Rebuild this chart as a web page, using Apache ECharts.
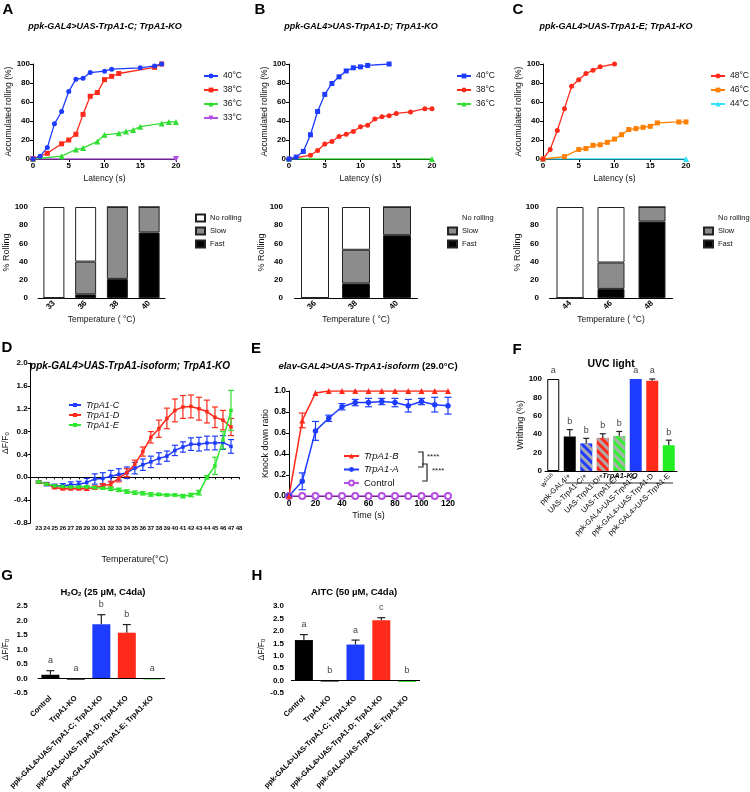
<!DOCTYPE html>
<html><head><meta charset="utf-8">
<script src="https://cdn.jsdelivr.net/npm/echarts@6/dist/echarts.min.js"></script>
<style>html,body{margin:0;padding:0;background:#fff}#c{width:750px;height:792px}</style>
</head><body><div id="c"></div>
<script>
// ================= DATA =================
// Panel A: ppk-GAL4>UAS-TrpA1-C; TrpA1-KO
const aLat40 = [0,1,2,3,4,5,6,7,8,10,11,15,17,18];
const aRoll40 = [0,3,12,37,50,71,84,85,91,92.5,94.5,96,98,100];
const aLat38 = [0,2,4,5,6,7,8,9,10,11,12,17,18];
const aRoll38 = [0,6,16,20,26,47,66,70,83.5,87,90,96.5,100];
const aLat36 = [0,4,6,7,9,10,12,13,14,15,18,19,20];
const aRoll36 = [0,3,10,11.5,18.5,25.5,27,29,30.5,34,37.5,39,39];
const aLat33 = [0,20];
const aRoll33 = [0,0];
const aTemps = ['33','36','38','40'];
const aFast = [0,4,21,72];
const aSlow = [0,36,79,28];
const aNone = [100,60,0,0];
// Panel B: ppk-GAL4>UAS-TrpA1-D; TrpA1-KO
const bLat40 = [0,1,2,3,4,5,6,7,8,9,10,11,14];
const bRoll40 = [0,2,8,25.5,50,68,79.5,86.5,92.7,96,97,98.5,100];
const bLat38 = [0,3,4,5,6,7,8,9,10,11,12,13,14,15,17,19,20];
const bRoll38 = [0,4,9,15.7,18.5,23.7,26,29,34,35.5,42,44.6,45.6,48,49.5,53,53];
const bLat36 = [0,20];
const bRoll36 = [0,0];
const bTemps = ['36','38','40'];
const bFast = [0,16,69];
const bSlow = [0,37,31];
const bNone = [100,47,0];
// Panel C: ppk-GAL4>UAS-TrpA1-E; TrpA1-KO
const cLat48 = [0,1,2,3,4,5,6,7,8,10];
const cRoll48 = [0,10,30,53,76.5,83.5,90,93.3,97,100];
const cLat46 = [0,3,5,6,7,8,9,10,11,12,13,14,15,16,19,20];
const cRoll46 = [0,2.5,10,11,14.4,15,17.5,21,25.6,31,32,33.3,34.4,38,39,39];
const cLat44 = [0,20];
const cRoll44 = [0,0];
const cTemps = ['44','46','48'];
const cFast = [0,10,84];
const cSlow = [0,29,16];
const cNone = [100,61,0];
// Panel D: dF/F0 vs temperature
const dTemp = [23,24,25,26,27,28,29,30,31,32,33,34,35,36,37,38,39,40,41,42,43,44,45,46,47];
const dC    = [-0.08,-0.12,-0.15,-0.15,-0.13,-0.12,-0.09,-0.03,-0.02,0.02,0.05,0.08,0.16,0.22,0.27,0.33,0.37,0.47,0.53,0.58,0.58,0.60,0.60,0.61,0.54];
const dCErr = [0.02,0.03,0.03,0.04,0.05,0.05,0.07,0.09,0.1,0.1,0.1,0.1,0.1,0.1,0.1,0.1,0.09,0.09,0.09,0.11,0.12,0.12,0.12,0.12,0.12];
const dD    = [-0.08,-0.12,-0.18,-0.2,-0.2,-0.2,-0.2,-0.18,-0.15,-0.12,-0.02,0.08,0.23,0.45,0.70,0.85,1.03,1.17,1.23,1.24,1.20,1.15,1.05,1.00,0.88];
const dDErr = [0.02,0.02,0.02,0.02,0.02,0.02,0.03,0.03,0.04,0.05,0.06,0.07,0.07,0.08,0.1,0.15,0.18,0.2,0.2,0.2,0.2,0.2,0.18,0.17,0.15];
const dE    = [-0.08,-0.12,-0.15,-0.16,-0.17,-0.17,-0.17,-0.18,-0.19,-0.2,-0.22,-0.25,-0.27,-0.28,-0.3,-0.3,-0.31,-0.31,-0.33,-0.31,-0.27,0.0,0.2,0.65,1.17];
const dEErr = [0.02,0.02,0.02,0.02,0.02,0.02,0.02,0.02,0.02,0.03,0.03,0.03,0.03,0.03,0.03,0.02,0.02,0.02,0.03,0.03,0.04,0.03,0.15,0.15,0.35];
// Panel E: knock down ratio
const eTime = [0,10,20,30,40,50,60,70,80,90,100,110,120];
const eB    = [0,0.72,0.98,1,1,1,1,1,1,1,1,1,1];
const eBErr = [0,0.07,0,0,0,0,0,0,0,0,0,0,0];
const eA    = [0,0.14,0.62,0.74,0.85,0.89,0.89,0.90,0.89,0.86,0.90,0.87,0.86];
const eAErr = [0,0.08,0.09,0.03,0.03,0.03,0.04,0.03,0.04,0.06,0.03,0.07,0.08];
const eCtrl = [0,0,0,0,0,0,0,0,0,0,0,0,0];
// Panel F: UVC light writhing
const fGeno = ['w1118','ppk-GAL4/+','UAS-TrpA1-C/+','UAS-TrpA1-D/+','UAS-TrpA1-E/+','ppk-GAL4>UAS-TrpA1-C','ppk-GAL4>UAS-TrpA1-D','ppk-GAL4>UAS-TrpA1-E'];
const fVals = [100,37.5,30,36,38,100,98,28];
const fErr  = [0,7.5,5.5,4.5,5,0,2,5.5];
const fLetters = ['a','b','b','b','b','a','a','b'];
// Panels G, H
const ghGeno = ['Control','TrpA1-KO','ppk-GAL4>UAS-TrpA1-C; TrpA1-KO','ppk-GAL4>UAS-TrpA1-D; TrpA1-KO','ppk-GAL4>UAS-TrpA1-E; TrpA1-KO'];
const gVals = [0.13,-0.05,1.87,1.58,-0.03];
const gErr  = [0.14,0,0.33,0.28,0];
const gLetters = ['a','a','b','b','a'];
const hVals = [1.63,-0.05,1.45,2.43,-0.05];
const hErr  = [0.22,0,0.18,0.1,0];
const hLetters = ['a','b','a','c','b'];

// ================= STYLE =================
const FONT = '"Liberation Sans", Arial, Helvetica, sans-serif';
const BLUE='#1e3cff', RED='#ff2a1a', GREEN='#33dd33', PURPLE='#b44fe0', ORANGE='#ff8000', CYAN='#33e0ff', GRAY='#8c8c8c';
const fColors = ['#ffffff','#000000',BLUE,RED,'#33ee33',BLUE,RED,'#22ee22'];
const fHatch  = [false,false,true,true,true,false,false,false];
const ghColors = ['#000000','#555555',BLUE,RED,'#22cc22'];

function merge(a,b){const o=Object.assign({},a);for(const k in b){const v=b[k];if(v&&typeof v==='object'&&!Array.isArray(v)&&a[k]&&typeof a[k]==='object'&&!Array.isArray(a[k]))o[k]=merge(a[k],v);else o[k]=v;}return o;}
const axisBase = {
  axisLine:{lineStyle:{color:'#000',width:1}},
  axisTick:{length:3,lineStyle:{color:'#000'}},
  axisLabel:{color:'#000',fontSize:8,fontWeight:'bold',fontFamily:FONT,margin:3},
  splitLine:{show:false},
  nameTextStyle:{color:'#111',fontSize:8.5,fontFamily:FONT}
};
const grids=[],xAxes=[],yAxes=[],series=[],legends=[],graphics=[];
function addPanel(grid,xa,ya){grids.push(grid);const gi=grids.length-1;xAxes.push(merge(axisBase,Object.assign({gridIndex:gi},xa)));yAxes.push(merge(axisBase,Object.assign({gridIndex:gi},ya)));return xAxes.length-1;}
const stripName = n => n.split('|')[0];

function errSeries(ai, xs, ys, es, color, opt){
  opt = opt||{};
  const data = ys.map((y,i)=>[xs[i], y, es[i]]);
  return {type:'custom', xAxisIndex:ai, yAxisIndex:ai, silent:true, z:opt.z||3, data,
    renderItem:(p,api)=>{
      const x=api.value(0), y=api.value(1), e=api.value(2);
      const ch=[]; const cw=opt.cap||3; const lw=opt.lw||1;
      const top=api.coord([x,y+e]), bot=api.coord([x,opt.up?y:y-e]);
      if(e>0){
        ch.push({type:'line',shape:{x1:top[0],y1:top[1],x2:bot[0],y2:bot[1]},style:{stroke:color,lineWidth:lw}});
        ch.push({type:'line',shape:{x1:top[0]-cw,y1:top[1],x2:top[0]+cw,y2:top[1]},style:{stroke:color,lineWidth:lw}});
        if(!opt.up) ch.push({type:'line',shape:{x1:bot[0]-cw,y1:bot[1],x2:bot[0]+cw,y2:bot[1]},style:{stroke:color,lineWidth:lw}});
      }
      if(opt.letters){
        const r=api.coord([x,Math.max(y+e,0)]);
        ch.push({type:'text',x:r[0],y:r[1]-opt.gap,style:{text:opt.letters[p.dataIndex],font:(opt.lf||'9px')+' '+FONT,fill:'#444',align:'center',verticalAlign:'middle'}});
      }
      return {type:'group',children:ch};
    }};
}

// ---------- Rolling curves (A,B,C top) ----------
function rollingPanel(tag,left,lines,legLeft){
  const ai = addPanel({left,top:64,width:143,height:95},
    {type:'value',min:0,max:20,interval:5,name:'Latency (s)',nameLocation:'middle',nameGap:15},
    {type:'value',min:0,max:100,interval:20,name:'Accumulated rolling (%)',nameLocation:'middle',nameGap:13});
  lines.slice().reverse().forEach(l=>{
    series.push({type:'line',name:l.name+'|'+tag,xAxisIndex:ai,yAxisIndex:ai,data:l.x.map((v,i)=>[v,l.y[i]]),
      symbol:l.symbol,symbolSize:l.size||5,symbolRotate:l.rot||0,showSymbol:true,showAllSymbol:true,
      lineStyle:{color:l.color,width:1.3},itemStyle:{color:l.color},emphasis:{disabled:true}});
  });
  legends.push({orient:'vertical',left:legLeft,top:66,itemWidth:14,itemHeight:6,itemGap:4,
    data:lines.map(l=>l.name+'|'+tag),formatter:stripName,
    textStyle:{fontSize:8.5,fontFamily:FONT,color:'#111',lineHeight:10}});
}
rollingPanel('A',33,[
  {name:'40°C',x:aLat40,y:aRoll40,color:BLUE,symbol:'circle'},
  {name:'38°C',x:aLat38,y:aRoll38,color:RED,symbol:'rect'},
  {name:'36°C',x:aLat36,y:aRoll36,color:GREEN,symbol:'triangle',size:6},
  {name:'33°C',x:aLat33,y:aRoll33,color:PURPLE,symbol:'triangle',size:6,rot:180}],198);
rollingPanel('B',289,[
  {name:'40°C',x:bLat40,y:bRoll40,color:BLUE,symbol:'rect'},
  {name:'38°C',x:bLat38,y:bRoll38,color:RED,symbol:'circle'},
  {name:'36°C',x:bLat36,y:bRoll36,color:GREEN,symbol:'triangle',size:6}],451);
rollingPanel('C',543,[
  {name:'48°C',x:cLat48,y:cRoll48,color:RED,symbol:'circle'},
  {name:'46°C',x:cLat46,y:cRoll46,color:ORANGE,symbol:'rect'},
  {name:'44°C',x:cLat44,y:cRoll44,color:CYAN,symbol:'triangle',size:6}],705);

// ---------- Stacked bars (A,B,C bottom) ----------
function stackPanel(tag,left,width,off,cats,fast,slow,none,bw,legLeft,noneBox){
  const ai = addPanel({left,top:207,width,height:91},
    {type:'category',data:cats,axisTick:{alignWithLabel:true},axisLabel:{rotate:45,margin:4},name:'Temperature ( °C)',nameLocation:'middle',nameGap:17,nameTextStyle:{fontSize:8.5}},
    {type:'value',min:0,max:100,interval:20,offset:off,name:'% Rolling',nameLocation:'middle',nameGap:17,nameTextStyle:{fontSize:9}});
  const mk=(name,vals,color)=>({type:'bar',name:name+'|'+tag,stack:'s'+tag,xAxisIndex:ai,yAxisIndex:ai,data:vals,barWidth:bw,
    itemStyle:{color,borderColor:'#222',borderWidth:1},emphasis:{disabled:true}});
  series.push(mk('Fast',fast,'#000'),mk('Slow',slow,GRAY),mk('No rolling',none,'#fff'));
  legends.push({orient:'vertical',left:legLeft,top:208,itemWidth:9,itemHeight:7,itemGap:3,formatter:stripName,icon:'rect',
    data:[noneBox?{name:'No rolling|'+tag}:{name:'No rolling|'+tag,itemStyle:{opacity:0}},{name:'Slow|'+tag},{name:'Fast|'+tag}],
    textStyle:{fontSize:7.5,fontFamily:FONT,color:'#111',lineHeight:10}});
}
stackPanel('A',38,127,7,aTemps,aFast,aSlow,aNone,21,190,true);
stackPanel('B',294.5,123,8.5,bTemps,bFast,bSlow,bNone,28,442,false);
stackPanel('C',549.5,123,7.5,cTemps,cFast,cSlow,cNone,27,698,false);

// ---------- Panel D ----------
{
  const ai = addPanel({left:30,top:363,width:209,height:160},
    {type:'value',min:22,max:48,interval:1,axisTick:{length:2},axisLabel:{fontSize:6,margin:2,formatter:v=>v===22?'':v},
      name:'Temperature(°C)',nameLocation:'middle',nameGap:32,nameTextStyle:{fontSize:9}},
    {type:'value',min:-0.8,max:2.0,interval:0.4,axisLabel:{formatter:v=>v.toFixed(1)},
      name:'ΔF/F{s|0}',nameLocation:'middle',nameGap:17,nameTextStyle:{fontSize:8.5,rich:{s:{fontSize:6,verticalAlign:'bottom'}}}});
  const L=[['TrpA1-C',dC,dCErr,BLUE],['TrpA1-D',dD,dDErr,RED],['TrpA1-E',dE,dEErr,'#2ee62e']];
  L.forEach(([n,v,e,c])=>{
    series.push({type:'line',name:n+'|D',xAxisIndex:ai,yAxisIndex:ai,data:dTemp.map((t,i)=>[t,v[i]]),symbol:'rect',symbolSize:3.5,
      lineStyle:{color:c,width:1.5},itemStyle:{color:c},emphasis:{disabled:true},z:4});
    series.push(errSeries(ai,dTemp,v,e,c,{cap:3,lw:1.2}));
  });
  legends.push({orient:'vertical',left:63,top:395,itemWidth:12,itemHeight:5,itemGap:0,formatter:stripName,
    data:L.map(l=>l[0]+'|D'),textStyle:{fontSize:9,fontStyle:'italic',fontFamily:FONT,color:'#111',lineHeight:10}});
}

// ---------- Panel E ----------
{
  const ai = addPanel({left:289,top:391,width:159,height:105},
    {type:'value',min:0,max:120,interval:20,axisLabel:{fontSize:8.5},name:'Time (s)',nameLocation:'middle',nameGap:15,nameTextStyle:{fontSize:9}},
    {type:'value',min:0,max:1,interval:0.2,axisLabel:{fontSize:8.5,formatter:v=>v.toFixed(1)},name:'Knock down ratio',nameLocation:'middle',nameGap:19,nameTextStyle:{fontSize:9}});
  series.push({type:'line',name:'Control|E',xAxisIndex:ai,yAxisIndex:ai,data:eTime.map((t,i)=>[t,eCtrl[i]]),symbol:'emptyCircle',symbolSize:6,
    lineStyle:{color:PURPLE,width:1.5},itemStyle:{color:PURPLE,borderWidth:1.2},emphasis:{disabled:true}});
  series.push({type:'line',name:'TrpA1-A|E',xAxisIndex:ai,yAxisIndex:ai,data:eTime.map((t,i)=>[t,eA[i]]),symbol:'circle',symbolSize:5.5,
    lineStyle:{color:BLUE,width:1.5},itemStyle:{color:BLUE},emphasis:{disabled:true}});
  series.push(errSeries(ai,eTime,eA,eAErr,BLUE,{cap:3.5,lw:1.2}));
  series.push({type:'line',name:'TrpA1-B|E',xAxisIndex:ai,yAxisIndex:ai,data:eTime.map((t,i)=>[t,eB[i]]),symbol:'triangle',symbolSize:6,
    lineStyle:{color:RED,width:1.5},itemStyle:{color:RED},emphasis:{disabled:true}});
  series.push(errSeries(ai,eTime,eB,eBErr,RED,{cap:3.5,lw:1.2}));
  legends.push({orient:'vertical',left:338,top:446,itemWidth:15,itemHeight:6,itemGap:3.5,formatter:stripName,
    data:[{name:'TrpA1-B|E',textStyle:{fontStyle:'italic'}},{name:'TrpA1-A|E',textStyle:{fontStyle:'italic'}},{name:'Control|E'}],
    textStyle:{fontSize:9.5,fontFamily:FONT,color:'#111',lineHeight:10}});
  const br=[[418,452,423,467],[422,464,427,481]];
  br.forEach(b=>graphics.push({type:'polyline',shape:{points:[[b[0],b[1]],[b[2],b[1]],[b[2],b[3]],[b[0],b[3]]]},style:{stroke:'#222',lineWidth:1.2,fill:null}}));
  graphics.push({type:'text',x:427,y:457,style:{text:'****',font:'8px '+FONT,fill:'#222',align:'left',verticalAlign:'middle'}});
  graphics.push({type:'text',x:432,y:471,style:{text:'****',font:'8px '+FONT,fill:'#222',align:'left',verticalAlign:'middle'}});
}

// ---------- Panel F ----------
{
  const ai = addPanel({left:545,top:379,width:132,height:92},
    {type:'category',data:fGeno,axisTick:{alignWithLabel:true},axisLabel:{rotate:45,fontSize:7.5,fontWeight:'normal',margin:4,interval:0,
      formatter:v=>v==='w1118'?'{w|w}{s|1118}':v,rich:{w:{fontSize:7.5,fontFamily:FONT},s:{fontSize:5,verticalAlign:'top',fontFamily:FONT}}}},
    {type:'value',min:0,max:100,interval:20,name:'Writhing (%)',nameLocation:'middle',nameGap:19,nameTextStyle:{fontSize:9}});
  series.push({type:'bar',xAxisIndex:ai,yAxisIndex:ai,barWidth:12,emphasis:{disabled:true},
    data:fVals.map((v,i)=>({value:v,itemStyle:{color:fColors[i],borderColor:i===0?'#000':fColors[i],borderWidth:i===0?1:0,
      decal:fHatch[i]?{symbol:'rect',symbolSize:1,color:'rgba(175,175,175,0.95)',dashArrayX:[1,0],dashArrayY:[2.5,3],rotation:Math.PI/4}:null}}))});
  series.push(errSeries(ai,fGeno,fVals,fErr,'#222',{up:true,cap:3,lw:1.2,letters:fLetters,gap:8,lf:'9px'}));
  graphics.push({type:'text',x:620,y:476,style:{text:'TrpA1-KO',font:'italic bold 7.5px '+FONT,fill:'#111',align:'center',verticalAlign:'middle'}});
  graphics.push({type:'line',shape:{x1:565,y1:483,x2:673,y2:483},style:{stroke:'#777',lineWidth:1.5}});
}

// ---------- Panels G, H ----------
function ghPanel(tag,left,width,off,vals,errs,letters,maxV){
  const ai = addPanel({left,top:606,width,height:91},
    {type:'category',data:ghGeno,axisLine:{show:false,onZero:false},axisTick:{alignWithLabel:true},axisLabel:{rotate:45,fontSize:7.5,margin:4,interval:0}},
    {type:'value',min:-0.5,max:maxV,interval:0.5,offset:off,axisLabel:{formatter:v=>v.toFixed(1)},
      name:'ΔF/F{s|0}',nameLocation:'middle',nameGap:13,nameTextStyle:{fontSize:8.5,rich:{s:{fontSize:6,verticalAlign:'bottom'}}}});
  series.push({type:'bar',xAxisIndex:ai,yAxisIndex:ai,barWidth:18,emphasis:{disabled:true},
    data:vals.map((v,i)=>({value:v,itemStyle:{color:ghColors[i]}})),
    markLine:{silent:true,symbol:'none',label:{show:false},lineStyle:{color:'#000',type:'solid',width:1},data:[{yAxis:0}]}});
  series.push(errSeries(ai,ghGeno,vals,errs,'#222',{up:true,cap:4,lw:1.2,letters,gap:10,lf:'9px'}));
}
ghPanel('G',37,128,7,gVals,gErr,gLetters,2.5);
ghPanel('H',291,129,4,hVals,hErr,hLetters,3.0);

// ---------- Titles & panel letters ----------
const T=(x,y,text,font,extra)=>graphics.push({type:'text',x,y,style:Object.assign({text,font:font+' '+FONT,fill:'#000',align:'center',verticalAlign:'middle'},extra||{})});
T(8,10,'A','bold 15px');T(260,10,'B','bold 15px');T(518,10,'C','bold 15px');
T(7,348,'D','bold 15px');T(256,349,'E','bold 15px');T(517,350,'F','bold 15px');
T(7,576,'G','bold 15px');T(257,576,'H','bold 15px');
T(105,27,'ppk-GAL4>UAS-TrpA1-C; TrpA1-KO','italic bold 9px');
T(361,27,'ppk-GAL4>UAS-TrpA1-D; TrpA1-KO','italic bold 9px');
T(616,27,'ppk-GAL4>UAS-TrpA1-E; TrpA1-KO','italic bold 9px');
T(130,366,'ppk-GAL4>UAS-TrpA1-isoform; TrpA1-KO','italic bold 10px');
T(368,366,'{i|elav-GAL4>UAS-TrpA1-isoform} {n|(29.0°C)}','bold 9.5px',{rich:{i:{font:'italic bold 9.5px '+FONT},n:{font:'bold 9.5px '+FONT}}});
T(611,364,'UVC light','bold 10.5px');
T(103,592,'H{s|2}O{s|2} (25 µM, C4da)','bold 9.5px',{rich:{s:{font:'bold 6px '+FONT,verticalAlign:'bottom'}}});
T(354,592,'AITC (50 µM, C4da)','bold 9.5px');

const chart = echarts.init(document.getElementById('c'),null,{renderer:'canvas'});
chart.setOption({animation:false,backgroundColor:'#fff',textStyle:{fontFamily:FONT},
  grid:grids,xAxis:xAxes,yAxis:yAxes,series,legend:legends,graphic:graphics});
</script></body></html>
